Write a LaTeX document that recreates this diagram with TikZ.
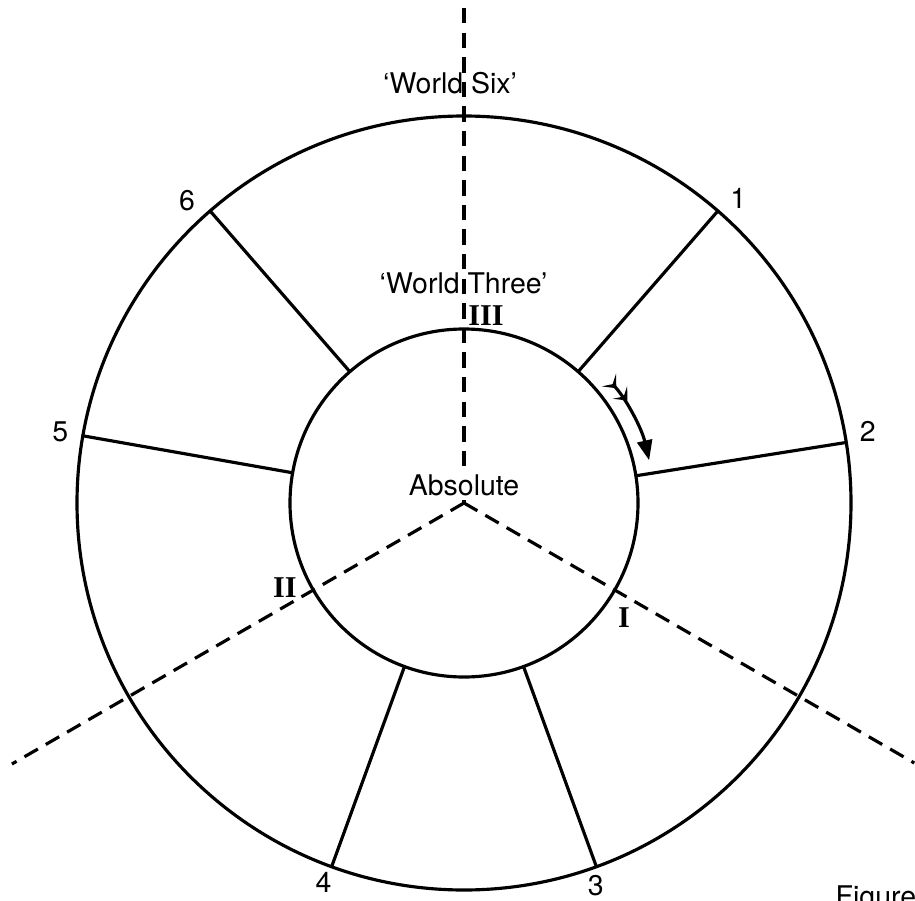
\documentclass[tikz,border=0pt]{standalone}
\usepackage{fontspec}
\setmainfont{Liberation Serif}
\setsansfont{TeX Gyre Heros}
\usetikzlibrary{arrows.meta}

\begin{document}
\begin{tikzpicture}[x=1cm,y=1cm,line cap=round,line join=round,
  every node/.style={font=\sffamily\fontsize{8.1}{9.5}\selectfont},
  wire/.style={line width=0.9pt},
  axis/.style={line width=0.9pt,line cap=butt,dash pattern=on 4.4pt off 2.6pt},
  realm/.style={font=\rmfamily\bfseries\fontsize{8.6}{10}\selectfont},
  flow/.style={wire,arrows={[sep=1.6pt]Stealth[reversed,length=1.1mm,width=1.9mm,inset=0.55mm]Stealth[reversed,length=1.1mm,width=1.9mm,inset=0.55mm]-Triangle[length=2mm,width=1.5mm]}}]
  \useasboundingbox (0,0) rectangle (9.15,-9.01);
  \coordinate (c) at (4.64,-5.03);
  % ---- the two circles ---------------------------------------------------
  \draw[wire] (c) circle (3.87);
  \draw[wire] (c) circle (1.74);
  % ---- spokes and their numbers ------------------------------------------
  \foreach \n/\a/\b/\r in {1/49/48/4.1,2/9/10/4.1,3/-70/-71/4.05,4/250/249.7/4.05,5/170/170/4.1,6/131/132.5/4.1}{
    \draw[wire] ([shift={(\a:1.74)}]c) -- ([shift={(\a:3.87)}]c);
    \node (n\n) at ([shift={(\b:\r)}]c) {\n};
  }
  % ---- dashed axes -------------------------------------------------------
  \coordinate (top) at (4.64,-0.08);
  \coordinate (left) at ([shift={(210:5.22)}]c);
  \coordinate (right) at ([shift={(330:5.2)}]c);
  \draw[axis] (top) -- (c);
  \draw[axis] (c) -- (left);
  \draw[axis] (c) -- (right);
  % ---- labels -------------------------------------------------------------
  \node (six) at (4.50,-0.83) {‘World Six’};
  \node (three) at (4.635,-2.83) {‘World Three’};
  \node[fill=white,inner sep=1pt] (abs) at (4.64,-4.85) {Absolute};
  \node[realm] (r3) at (4.86,-3.16) {III};
  \node[realm] (r2) at (2.85,-5.88) {II};
  \node[realm] (r1) at (6.24,-6.18) {I};
  % ---- turning arrow ------------------------------------------------------
  \draw[flow] ([shift={(42:1.9)}]c) arc[start angle=42,end angle=13,radius=1.9];
  % ---- caption, cut by the page -------------------------------------------
  \node[anchor=base west,inner sep=0pt] (cap) at (8.35,-9.06) {Figure};
\end{tikzpicture}
\end{document}
